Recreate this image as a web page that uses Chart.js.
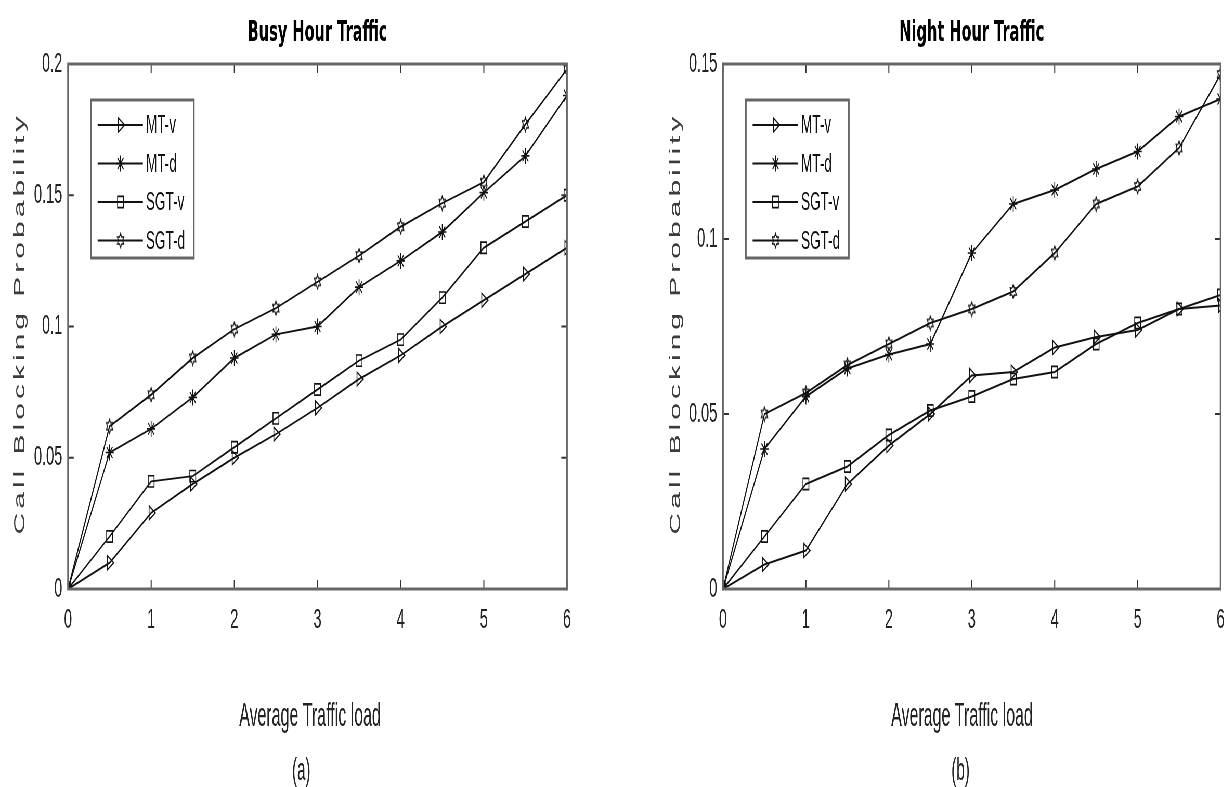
<!DOCTYPE html>
<html lang="en">
<head>
  <meta charset="UTF-8" />
  <title>Call Blocking Probability</title>
  <script src="https://cdn.jsdelivr.net/npm/chart.js"></script>
  <style>
    html, body {
      margin: 0;
      padding: 0;
      background: #fff;
      overflow: hidden;
    }
    /* both panels are laid out wide, then squeezed horizontally */
    .figure {
      display: flex;
      width: 2369px;
      height: 787px;
      transform: scaleX(0.52);
      transform-origin: 0 0;
    }
    .panel {
      position: relative;
      height: 787px;
    }
    #panelA { width: 1185px; }
    #panelB { width: 1184px; }
  </style>
</head>
<body>
  <div class="figure">
    <div class="panel" id="panelA"><canvas id="busyChart"></canvas></div>
    <div class="panel" id="panelB"><canvas id="nightChart"></canvas></div>
  </div>

  <script>
    // average traffic load (x) and blocking probability per scheme
    const load = [0, 0.5, 1, 1.5, 2, 2.5, 3, 3.5, 4, 4.5, 5, 5.5, 6];
    const seriesNames = ["MT-v", "MT-d", "SGT-v", "SGT-d"];

    // (a) busy hour
    const busyMTv  = [0, 0.010, 0.029, 0.040, 0.050, 0.059, 0.069, 0.080, 0.089, 0.100, 0.110, 0.120, 0.130];
    const busyMTd  = [0, 0.052, 0.061, 0.073, 0.088, 0.097, 0.100, 0.115, 0.125, 0.136, 0.151, 0.165, 0.188];
    const busySGTv = [0, 0.020, 0.041, 0.043, 0.054, 0.065, 0.076, 0.087, 0.095, 0.111, 0.130, 0.140, 0.150];
    const busySGTd = [0, 0.062, 0.074, 0.088, 0.099, 0.107, 0.117, 0.127, 0.138, 0.147, 0.155, 0.177, 0.198];

    // (b) night hour
    const nightMTv  = [0, 0.007, 0.011, 0.030, 0.041, 0.050, 0.061, 0.062, 0.069, 0.072, 0.074, 0.080, 0.081];
    const nightMTd  = [0, 0.040, 0.055, 0.063, 0.067, 0.070, 0.096, 0.110, 0.114, 0.120, 0.125, 0.135, 0.140];
    const nightSGTv = [0, 0.015, 0.030, 0.035, 0.044, 0.051, 0.055, 0.060, 0.062, 0.070, 0.076, 0.080, 0.084];
    const nightSGTd = [0, 0.050, 0.056, 0.064, 0.070, 0.076, 0.080, 0.085, 0.096, 0.110, 0.115, 0.126, 0.147];

    const SQ = 0.52; // horizontal squeeze of .figure
    const sans = '"Liberation Sans", Arial, sans-serif';

    // six-pointed star marker
    function hexagram(size) {
      const c = document.createElement("canvas");
      c.width = size;
      c.height = size;
      const g = c.getContext("2d");
      const r = size / 2 - 1.5, cx = size / 2, cy = size / 2;
      g.strokeStyle = "#111";
      g.lineWidth = 1.6;
      g.beginPath();
      for (let i = 0; i < 12; i++) {
        const a = -Math.PI / 2 + i * Math.PI / 6;
        const rr = i % 2 ? r * 0.577 : r;
        const px = cx + rr * Math.cos(a), py = cy + rr * Math.sin(a);
        if (i === 0) g.moveTo(px, py); else g.lineTo(px, py);
      }
      g.closePath();
      g.stroke();
      return c;
    }
    const hex = hexagram(17);

    const markers = [
      { pointStyle: "triangle", pointRotation: 90, pointRadius: 8 },
      { pointStyle: "star", pointRotation: 0, pointRadius: 8 },
      { pointStyle: "rect", pointRotation: 0, pointRadius: 8 },
      { pointStyle: hex, pointRotation: 0, pointRadius: 8 }
    ];

    // box around the plot with inward ticks on all four sides
    const framePlugin = {
      id: "frame",
      afterDatasetsDraw(chart) {
        const { ctx, chartArea: a, scales } = chart;
        ctx.save();
        ctx.strokeStyle = "#333";
        ctx.lineWidth = 2;
        ctx.beginPath();
        scales.x.ticks.forEach(t => {
          const px = scales.x.getPixelForValue(t.value);
          ctx.moveTo(px, a.bottom); ctx.lineTo(px, a.bottom - 9);
          ctx.moveTo(px, a.top); ctx.lineTo(px, a.top + 9);
        });
        scales.y.ticks.forEach(t => {
          const py = scales.y.getPixelForValue(t.value);
          ctx.moveTo(a.left, py); ctx.lineTo(a.left + 11, py);
          ctx.moveTo(a.right, py); ctx.lineTo(a.right - 11, py);
        });
        ctx.stroke();
        ctx.strokeStyle = "#666";
        ctx.lineWidth = 3;
        ctx.strokeRect(a.left, a.top, a.right - a.left, a.bottom - a.top);
        ctx.restore();
      }
    };

    // boxed legend in the upper left of the plot
    const legendBox = {
      id: "legendBox",
      afterDraw(chart) {
        const { ctx, chartArea: a } = chart;
        const bx = a.left + 44, by = a.top + 36, bw = 198, bh = 158;
        ctx.save();
        ctx.fillStyle = "#fff";
        ctx.fillRect(bx, by, bw, bh);
        ctx.strokeStyle = "#666";
        ctx.lineWidth = 3;
        ctx.strokeRect(bx, by, bw, bh);
        chart.data.datasets.forEach((ds, i) => {
          const cy = by + 25 + i * 38.5;
          ctx.strokeStyle = "#111";
          ctx.lineWidth = 2;
          ctx.beginPath();
          ctx.moveTo(bx + 13, cy);
          ctx.lineTo(bx + 100, cy);
          ctx.stroke();
          ctx.fillStyle = "rgba(0,0,0,0)";
          ctx.lineWidth = 1.6;
          Chart.helpers.drawPoint(ctx, {
            pointStyle: ds.pointStyle,
            rotation: ds.pointRotation,
            radius: ds.pointRadius,
            borderWidth: 1.6
          }, bx + 57, cy);
          ctx.fillStyle = "#111";
          ctx.font = "26px " + sans;
          ctx.textAlign = "left";
          ctx.textBaseline = "middle";
          ctx.fillText(ds.label, bx + 106, cy + 1);
        });
        ctx.restore();
      }
    };

    // spaced-out vertical axis title
    const sideTitle = {
      id: "sideTitle",
      afterDraw(chart, args, opts) {
        const { ctx, chartArea: a } = chart;
        ctx.save();
        ctx.translate(opts.x, (a.top + a.bottom) / 2 - 3);
        ctx.rotate(-Math.PI / 2);
        ctx.font = "30px " + sans;
        ctx.letterSpacing = "4px";
        ctx.fillStyle = "#3c3c3c";
        ctx.textAlign = "center";
        ctx.textBaseline = "middle";
        ctx.fillText(opts.text, 0, 0);
        ctx.restore();
      }
    };

    // condensed x-axis title and panel tag under the plot
    const bottomText = {
      id: "bottomText",
      afterDraw(chart, args, opts) {
        const { ctx } = chart;
        ctx.save();
        ctx.fillStyle = "#222";
        ctx.textAlign = "center";
        ctx.textBaseline = "middle";
        ctx.translate(opts.x, 0);
        ctx.scale(0.93, 1);
        ctx.font = "33px " + sans;
        ctx.fillText(opts.title, 0, 717);
        ctx.font = "31px " + sans;
        ctx.fillText(opts.tag, opts.tagShift, 771);
        ctx.restore();
      }
    };

    const tickText = v => String(+v.toFixed(3));

    function makePanel(id, title, tag, yMax, series, yWidth, padRight, sideX, bottomX, tagShift) {
      new Chart(document.getElementById(id), {
        type: "line",
        data: {
          datasets: series.map((vals, i) => ({
            label: seriesNames[i],
            data: load.map((x, j) => ({ x: x, y: vals[j] })),
            borderColor: "#111",
            borderWidth: 2,
            pointBorderColor: "#111",
            pointBackgroundColor: "rgba(0,0,0,0)",
            pointBorderWidth: 1.6,
            tension: 0,
            ...markers[i]
          }))
        },
        options: {
          responsive: true,
          maintainAspectRatio: false,
          animation: false,
          layout: { padding: { left: 0, right: padRight, top: 0, bottom: 0 } },
          plugins: {
            legend: { display: false },
            tooltip: { enabled: false },
            title: {
              display: true,
              fullSize: false,
              text: title,
              color: "#000",
              font: { family: '"DejaVu Sans", sans-serif', size: 28, weight: "bold" },
              padding: { top: 17, bottom: 13.4 }
            },
            sideTitle: { text: "Call Blocking Probability", x: sideX },
            bottomText: { title: "Average Traffic load", tag: tag, x: bottomX, tagShift: tagShift }
          },
          scales: {
            x: {
              type: "linear",
              min: 0,
              max: 6,
              ticks: { stepSize: 1, padding: 14, color: "#222", font: { family: sans, size: 28 } },
              grid: { display: false, drawTicks: false },
              border: { display: false },
              afterFit(s) { s.height = 198; }
            },
            y: {
              min: 0,
              max: yMax,
              ticks: {
                stepSize: 0.05, padding: 11, color: "#222",
                font: { family: sans, size: 28 },
                callback: tickText
              },
              grid: { display: false, drawTicks: false },
              border: { display: false },
              afterFit(s) { s.width = yWidth; }
            }
          }
        },
        plugins: [framePlugin, legendBox, sideTitle, bottomText]
      });
    }

    makePanel("busyChart", "Busy Hour Traffic", "(a)", 0.2,
      [busyMTv, busyMTd, busySGTv, busySGTd], 68 / SQ, 94.6, 20 / SQ, 310 / SQ, -18);
    makePanel("nightChart", "Night Hour Traffic", "(b)", 0.15,
      [nightMTv, nightMTd, nightSGTv, nightSGTd], (723 - 616.2) / SQ, 19,
      (676 - 616.2) / SQ, (962 - 616.2) / SQ, -3);
  </script>
</body>
</html>
